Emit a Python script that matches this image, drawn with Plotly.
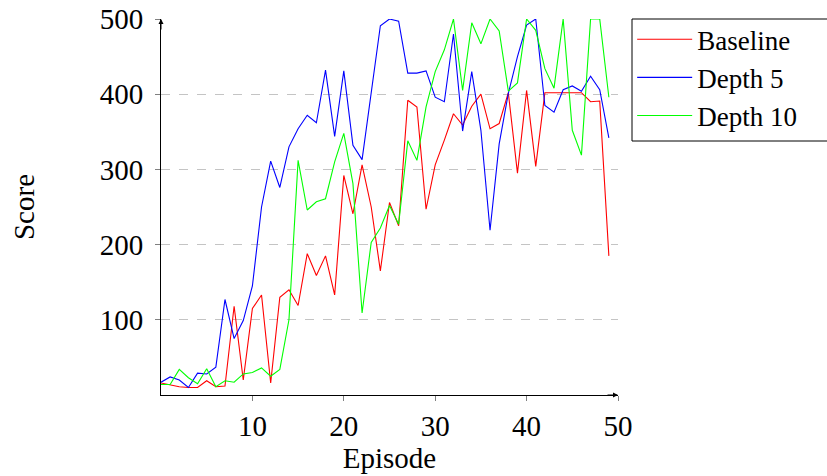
import plotly.graph_objects as go

episodes = list(range(50))
baseline = [16, 13, 11, 10, 10, 19, 11, 12, 118, 20, 115, 133, 16, 130, 140, 119, 188, 159, 185, 133,
            292, 241, 306, 250, 165, 256, 225, 392, 383, 247, 306, 339, 374, 359, 384, 400, 354, 361, 402, 295,
            405, 304, 402, 402, 402, 402, 402, 390, 391, 185]
depth5 = [17, 24, 20, 10, 29, 28, 37, 127, 75, 99, 145, 250, 311, 276, 330, 354, 372, 362, 432, 344,
          431, 332, 313, 402, 491, 500, 497, 428, 428, 431, 396, 390, 480, 351, 430, 352, 219, 334, 401, 450,
          492, 500, 385, 376, 406, 411, 404, 424, 406, 342]
depth10 = [14, 14, 34, 23, 15, 35, 11, 19, 17, 28, 30, 36, 25, 34, 100, 312, 246, 257, 261, 310,
           348, 281, 109, 203, 222, 252, 227, 338, 312, 383, 430, 459, 500, 405, 495, 467, 500, 484, 404, 415,
           500, 485, 434, 408, 500, 352, 319, 500, 500, 396]
series = [("Baseline", baseline, "#ff0000"), ("Depth 5", depth5, "#0000ff"), ("Depth 10", depth10, "#00ff00")]
xticks = [10, 20, 30, 40, 50]
yticks = [100, 200, 300, 400, 500]

FONT = "Liberation Serif"
FS = 29

fig = go.Figure()
for name, vals, col in series:
    fig.add_trace(go.Scatter(x=episodes, y=vals, mode="lines", name=name,
                             line=dict(color=col, width=1.1)))

fig.update_layout(
    width=827, height=476,
    margin=dict(l=161, r=209, t=19, b=81, autoexpand=False),
    plot_bgcolor="white", paper_bgcolor="white",
    font=dict(family=FONT, size=FS, color="black"),
    showlegend=True,
    legend=dict(x=1.031, y=1.01, xanchor="left", yanchor="top",
                bgcolor="rgba(0,0,0,0)", borderwidth=0, itemwidth=55,
                font=dict(family=FONT, size=27), tracegroupgap=0),
    xaxis=dict(range=[0, 50], tickvals=xticks, showgrid=False, zeroline=False,
               showline=True, linecolor="black", linewidth=1,
               ticks="outside", ticklen=5, tickcolor="#808080", tickwidth=1,
               title=dict(text="Episode", standoff=0, font=dict(family=FONT, size=FS))),
    xaxis2=dict(overlaying="x", matches="x", range=[0, 50], tickvals=xticks, showgrid=False,
                zeroline=False, showline=False, ticks="inside", ticklen=5, tickcolor="#808080",
                showticklabels=False, side="bottom", anchor="y"),
    yaxis=dict(range=[0, 500], tickvals=yticks, showgrid=True, gridcolor="#c4c4c4",
               griddash="dash", gridwidth=1, zeroline=False,
               showline=True, linecolor="black", linewidth=1,
               ticks="outside", ticklen=5, tickcolor="#808080", tickwidth=1,
               ticklabelstandoff=6,
               title=dict(text="Score", standoff=56, font=dict(family=FONT, size=FS))),
)

# axis arrows
fig.add_annotation(x=50, y=0, xref="x", yref="y", ax=-12, ay=0, text="", showarrow=True,
                   arrowhead=2, arrowsize=1, arrowwidth=1, arrowcolor="black")
fig.add_annotation(x=0, y=500, xref="x", yref="y", ax=0, ay=12, text="", showarrow=True,
                   arrowhead=2, arrowsize=1, arrowwidth=1, arrowcolor="black")

# legend frame
fig.add_shape(type="rect", xref="paper", yref="paper",
              x0=(632 - 161) / 457, x1=(830 - 161) / 457,
              y0=(395 - 141) / 376, y1=(395 - 19) / 376,
              line=dict(color="black", width=1), fillcolor="rgba(0,0,0,0)")

fig.write_html("out.html")
